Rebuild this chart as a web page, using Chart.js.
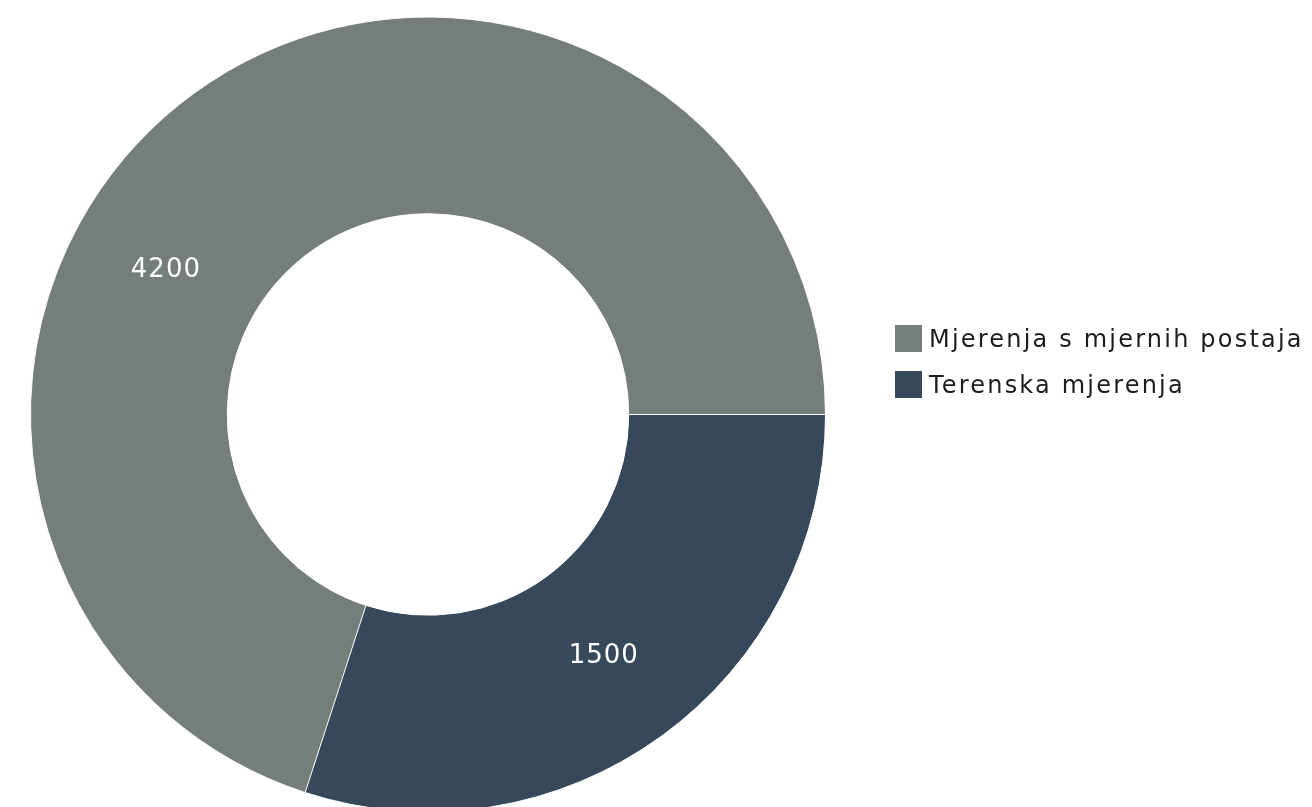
<!DOCTYPE html>
<html>
<head>
<meta charset="utf-8">
<script src="https://cdn.jsdelivr.net/npm/chart.js@4/dist/chart.umd.min.js"></script>
<style>
  html, body { margin: 0; padding: 0; background: #fff; overflow: hidden; }
  .wrap { position: relative; width: 1312px; height: 830px; }
  .legend {
    position: absolute; left: 895px; top: 325px;
    font-family: "DejaVu Sans", sans-serif; font-size: 24px; color: #1d1d1d;
    letter-spacing: 2.2px;
  }
  .legend .item { display: flex; align-items: center; height: 27px; margin-bottom: 19px; white-space: nowrap; }
  .legend .box { width: 27px; height: 27px; margin-right: 7px; flex: none; }
</style>
</head>
<body>
<div class="wrap">
  <canvas id="chart"></canvas>
  <div class="legend" id="legend"></div>
</div>
<script>
const labels = ['Mjerenja s mjernih postaja', 'Terenska mjerenja'];
const values = [4200, 1500];
const colors = ['#767e7b', '#36485a'];

// the source draws the second slice over ~108 degrees, starting at 3 o'clock
const secondSweep = 108;
const total = values.reduce((a, b) => a + b, 0);
const sweep = secondSweep * total / values[1];
const rotation = 450 - (sweep - secondSweep);

const sliceLabels = {
  id: 'sliceLabels',
  afterDatasetsDraw(chart) {
    const { ctx } = chart;
    const meta = chart.getDatasetMeta(0);
    ctx.save();
    ctx.fillStyle = '#ffffff';
    ctx.font = '26px "DejaVu Sans"';
    ctx.letterSpacing = '1px';
    ctx.textAlign = 'center';
    ctx.textBaseline = 'middle';
    meta.data.forEach((arc, i) => {
      const { x, y } = arc.tooltipPosition();
      ctx.fillText(String(values[i]), x, y);
    });
    ctx.restore();
  },
};

new Chart(document.getElementById('chart'), {
  type: 'doughnut',
  data: {
    labels,
    datasets: [{
      data: values,
      backgroundColor: colors,
      borderColor: '#ffffff',
      borderWidth: 1,
      hoverOffset: 0,
    }],
  },
  options: {
    responsive: true,
    maintainAspectRatio: false,
    animation: false,
    cutout: '50.5%',
    rotation,
    circumference: sweep,
    layout: { padding: { top: 16, bottom: 17, left: 30, right: 486 } },
    plugins: {
      legend: { display: false },
      tooltip: { enabled: false },
    },
  },
  plugins: [sliceLabels],
});

document.getElementById('legend').innerHTML = labels.map((l, i) =>
  `<div class="item"><span class="box" style="background:${colors[i]}"></span>${l}</div>`
).join('');
</script>
</body>
</html>
